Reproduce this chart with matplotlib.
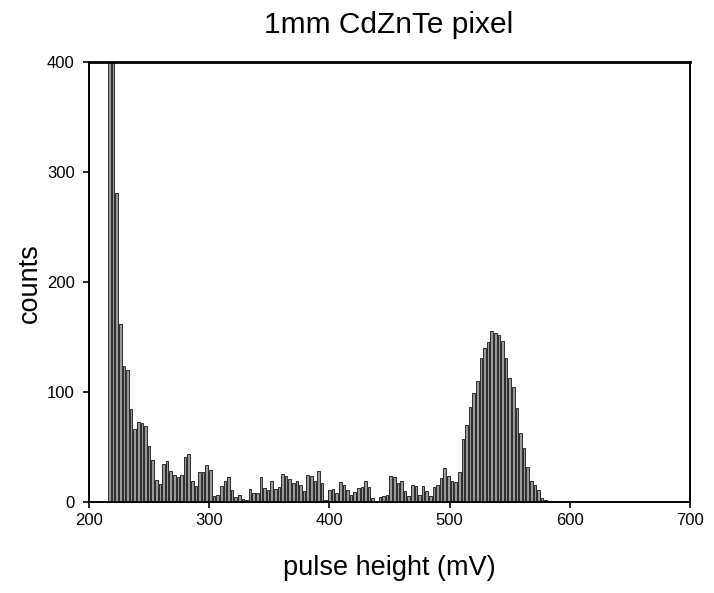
import matplotlib
matplotlib.use("Agg")
import matplotlib.pyplot as plt
import numpy as np

plt.rcParams['font.family'] = ['Liberation Sans', 'DejaVu Sans']

# Histogram data (counts per bin), bins start at 215.5 mV
bin_start = 215.5
bin_width = 3.0
counts = [
    620, 520, 281, 162, 124, 120, 85, 66, 73, 72,
    69, 51, 38, 20, 16.4, 34.5, 37, 28, 24.8, 22.4,
    24.2, 40.6, 43.6, 18.8, 14.5, 27.5, 27.5, 34, 29, 5.5,
    6, 14.5, 19.4, 22.4, 11, 4.8, 6, 3, 2, 11.5,
    8, 8, 22.4, 12.7, 11, 19.4, 11.5, 14, 25.5, 23.6,
    20.6, 17.6, 19.4, 15.2, 9.7, 24.2, 23.6, 19.4, 28.5, 17.6,
    1.8, 10.9, 11.5, 7.9, 18.2, 15.2, 10.9, 6.1, 9.1, 12.7,
    13.9, 19.4, 13.9, 3.6, 0, 4.8, 5.5, 6.1, 23.6, 22.4,
    17.6, 18.8, 9.7, 5.5, 15.2, 14.5, 6.1, 14.5, 9.7, 5.5,
    13.9, 15.2, 21.8, 30.6, 23.6, 19.4, 18.2, 27.3, 57, 70,
    86, 99.4, 110, 130.6, 139.7, 145.8, 155.8, 153.3, 151.8, 146.7,
    130.6, 112.4, 104.2, 85.2, 62.4, 48.8, 32.1, 19.4, 15.5, 10.9,
    3.9, 1.8,
]

x_ticks = [200, 300, 400, 500, 600, 700]
y_ticks = [0, 100, 200, 300, 400]

W, H = 714, 593
fig = plt.figure(figsize=(W / 100, H / 100), dpi=100)
ax = fig.add_axes([89 / W, 1 - 502 / H, (690 - 89) / W, (502 - 62) / H])

centers = bin_start + bin_width * (np.arange(len(counts)) + 0.5)
ax.bar(centers, counts, width=bin_width * 0.72, color='#9a9a9a',
       edgecolor='#111111', linewidth=0.6, align='center')

ax.set_xlim(200, 700)
ax.set_ylim(0, 400)
ax.set_xticks(x_ticks)
ax.set_yticks(y_ticks)
ax.tick_params(axis='both', direction='out', length=4.2, width=1.2,
               labelsize=12, colors='black')
ax.tick_params(axis='x', pad=4)
ax.tick_params(axis='y', pad=6)
for s in ax.spines.values():
    s.set_linewidth(1.4)
    s.set_color('black')
ax.spines['top'].set_linewidth(2.0)

fig.text(389 / W, 1 - 25 / H, '1mm CdZnTe pixel', ha='center', va='center',
         fontsize=21.5)
fig.text(389 / W, 1 - 568 / H, 'pulse height (mV)', ha='center', va='center',
         fontsize=19.5)
fig.text(30 / W, 1 - 283 / H, 'counts', ha='center', va='center',
         rotation=90, fontsize=19.5)

fig.savefig('out.png', dpi=100)
